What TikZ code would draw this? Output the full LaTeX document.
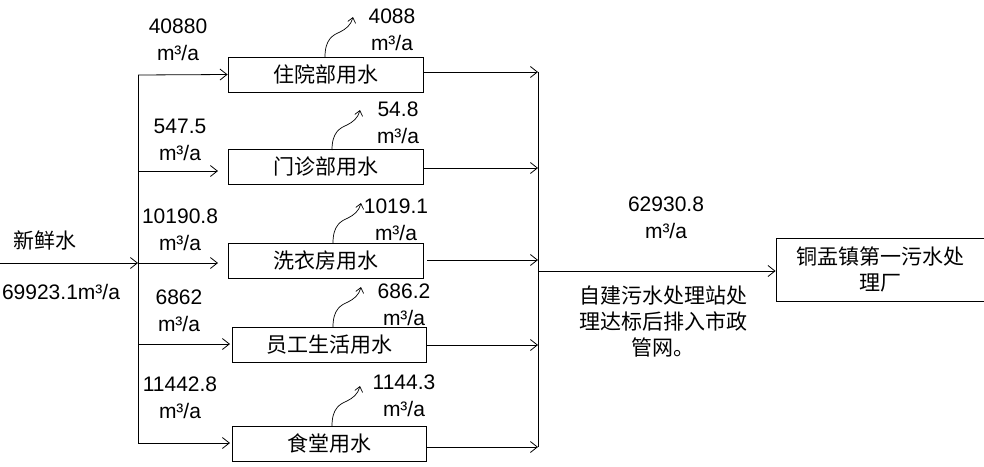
\documentclass[tikz,border=0pt]{standalone}
\usepackage{fontspec}
\setmainfont{Liberation Sans}
\newfontfamily\cjk{Noto Sans CJK SC}
\usetikzlibrary{arrows.meta,calc}
\begin{document}
\begin{tikzpicture}[x=1pt,y=-1pt,
  every node/.style={font=\fontsize{21}{27}\selectfont, inner sep=0pt},
  box/.style={draw, line width=0.8pt, minimum height=35pt, font=\cjk\fontsize{21}{26}\selectfont},
  lab/.style={align=center},
  flow/.style={line width=0.8pt, -{Straight Barb[length=7pt,width=11pt]}},
  evap/.style={line width=0.7pt, -{Straight Barb[length=5pt,width=8pt]}},
  plain/.style={line width=0.8pt}]
\useasboundingbox (0,0) rectangle (984,466);
% boxes
\node[box, minimum width=195pt] (b1) at (325.5,74.5) {住院部用水};
\node[box, minimum width=195pt] (b2) at (325.5,167) {门诊部用水};
\node[box, minimum width=195pt] (b3) at (325.5,261) {洗衣房用水};
\node[box, minimum width=194pt] (b4) at (329,345) {员工生活用水};
\node[box, minimum width=194pt] (b5) at (329,443.5) {食堂用水};
\node[box, minimum width=209pt, minimum height=63pt, align=center] (b6) at (880.5,269.5) {铜盂镇第一污水处\\理厂};
% input
\coordinate (in) at (0,263);
\coordinate (bt) at (138,75);
\coordinate (bb) at (138,443);
\coordinate (bm) at (138,263);
\draw[flow] (in) -- (bm);
\draw[plain] (bt) -- (bb);
\node (xx) at (45,241) {\cjk 新鲜水};
\node (tot) at (61,292) {69923.1m³/a};
% branches
\draw[flow] (bt) -- (b1.west);
\draw[flow] (138,171) coordinate (s2) -- (218,171) coordinate (e2);
\draw[flow] (bm) -- (218,263) coordinate (e3);
\draw[flow] (138,344) coordinate (s4) -- (230,344) coordinate (e4);
\draw[flow] (bb) -- (230,443) coordinate (e5);
\node[lab] (l1) at (178,40) {40880\\m³/a};
\node[lab] (l2) at (180,140) {547.5\\m³/a};
\node[lab] (l3) at (180,230) {10190.8\\m³/a};
\node[lab] (l4) at (179,311) {6862\\m³/a};
\node[lab] (l5) at (180,398) {11442.8\\m³/a};
% collector
\coordinate (c1) at (538,72);
\coordinate (c2) at (538,168);
\coordinate (c3) at (538,260);
\coordinate (c4) at (538,345);
\coordinate (c5) at (538,447);
\coordinate (cm) at (538,271);
\draw[flow] (423,72) -- (c1);
\draw[flow] (423,168) -- (c2);
\draw[flow] (427,260) -- (c3);
\draw[flow] (426,345) -- (c4);
\draw[flow] (426,447) -- (c5);
\draw[plain] (c1) -- (c5);
\draw[flow] (cm) -- (b6.west |- cm);
\node[lab] (ot) at (666,218) {62930.8\\m³/a};
\node[lab, font=\cjk\fontsize{21}{26}\selectfont] (note) at (663,322) {自建污水处理站处\\理达标后排入市政\\管网。};
% evaporation
\newcommand{\evapcurve}[2]{%
  \draw[evap] #1 .. controls ++(0,-18) and ++(-7,3) .. ++(15,-25) .. controls ++(6,-3) and ++(-2,8) .. ++(13,-15);}
\evapcurve{(325,57)}{}
\evapcurve{(332,150)}{}
\evapcurve{(333,243)}{}
\evapcurve{(333,327)}{}
\evapcurve{(332,426)}{}
\node[lab] (r1) at (392,30) {4088\\m³/a};
\node[lab] (r2) at (398,123) {54.8\\m³/a};
\node[lab] (r3) at (396,220) {1019.1\\m³/a};
\node[lab] (r4) at (404,305) {686.2\\m³/a};
\node[lab] (r5) at (404,396) {1144.3\\m³/a};
\end{tikzpicture}
\end{document}
